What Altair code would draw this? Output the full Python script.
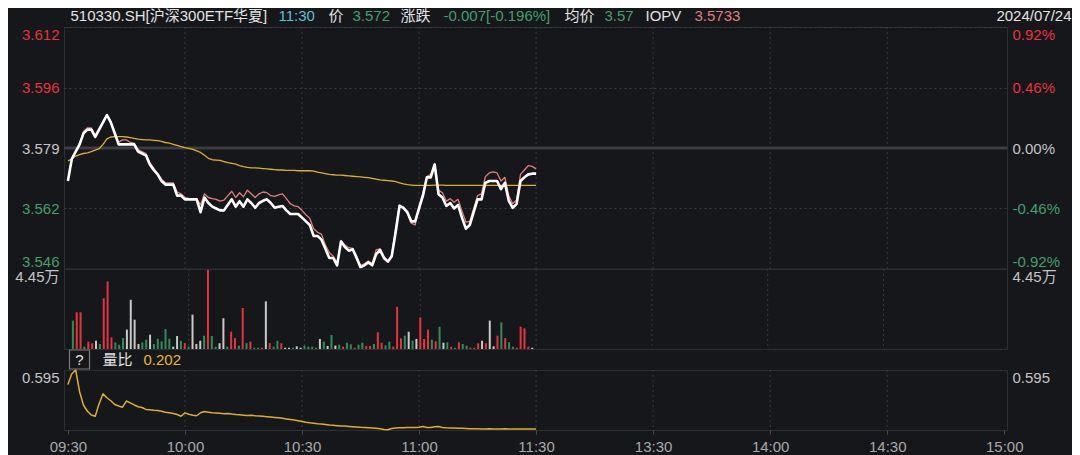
import json
import altair as alt
import pandas as pd

# ---------------- data ----------------
PREV_CLOSE = 3.579

PRICE = [
    3.570, 3.576, 3.578, 3.580, 3.583, 3.584, 3.584, 3.582, 3.584, 3.586,
    3.588, 3.586, 3.583, 3.580, 3.580, 3.580, 3.580, 3.580, 3.578, 3.5775,
    3.577, 3.5745, 3.573, 3.5718, 3.570, 3.569, 3.569, 3.569, 3.566, 3.566,
    3.565, 3.565, 3.565, 3.565, 3.5615, 3.5655, 3.564, 3.563, 3.5625, 3.562,
    3.562, 3.5635, 3.565, 3.563, 3.5645, 3.563, 3.565, 3.564, 3.5627, 3.564,
    3.5646, 3.565, 3.564, 3.5627, 3.563, 3.5632, 3.562, 3.561, 3.561, 3.561,
    3.560, 3.559, 3.558, 3.555, 3.555, 3.554, 3.5515, 3.549, 3.549, 3.547,
    3.5535, 3.552, 3.551, 3.5514, 3.549, 3.5465, 3.547, 3.5478, 3.547, 3.550,
    3.5512, 3.549, 3.548, 3.5495, 3.556, 3.5632, 3.5627, 3.5615, 3.559, 3.559,
    3.5625, 3.566, 3.571, 3.571, 3.5745, 3.5664, 3.5655, 3.5632, 3.564, 3.5625,
    3.5635, 3.560, 3.557, 3.558, 3.5615, 3.565, 3.565, 3.5695, 3.570, 3.570,
    3.570, 3.5678, 3.5695, 3.5646, 3.5627, 3.5637, 3.570, 3.571, 3.5718, 3.572,
    3.572,
]

IOPV = [
    3.5702, 3.5762, 3.5782, 3.5802, 3.5835, 3.5845, 3.5845, 3.5825, 3.5843, 3.5862,
    3.5878, 3.5862, 3.5835, 3.5806, 3.5812, 3.5812, 3.5805, 3.5803, 3.5785, 3.578,
    3.5775, 3.575, 3.5735, 3.572, 3.5705, 3.5695, 3.5695, 3.5695, 3.567, 3.5665,
    3.5655, 3.5652, 3.5652, 3.5652, 3.5635, 3.5665, 3.5655, 3.5652, 3.565, 3.5645,
    3.5648, 3.566, 3.5672, 3.5655, 3.5668, 3.5657, 3.5675, 3.5665, 3.5655, 3.5665,
    3.567, 3.5668, 3.566, 3.5658, 3.5662, 3.5665, 3.5652, 3.5638, 3.5632, 3.563,
    3.562, 3.5608, 3.5598, 3.557, 3.556, 3.5555, 3.5525, 3.5505, 3.5495, 3.5478,
    3.5538, 3.5525, 3.5518, 3.5516, 3.5495, 3.547, 3.5474, 3.5482, 3.5475, 3.5512,
    3.5515, 3.5495, 3.5482, 3.5498, 3.557, 3.5635, 3.5625, 3.5612, 3.5585, 3.558,
    3.5632, 3.5668, 3.5712, 3.5718, 3.5748, 3.5675, 3.5668, 3.5645, 3.5652, 3.5642,
    3.565, 3.5618, 3.5588, 3.559, 3.5625, 3.566, 3.5665, 3.5712, 3.5722, 3.5725,
    3.5722, 3.570, 3.571, 3.566, 3.5638, 3.5648, 3.5718, 3.573, 3.5742, 3.574,
    3.5733,
]

AVG = [
    3.5755, 3.576, 3.5768, 3.5772, 3.5775, 3.5777, 3.578, 3.5784, 3.5788, 3.580,
    3.5815, 3.582, 3.5821, 3.5821, 3.5821, 3.582, 3.5818, 3.5816, 3.5814, 3.5813,
    3.5812, 3.5812, 3.5811, 3.581, 3.5808, 3.5805, 3.5803, 3.580, 3.5797, 3.5794,
    3.5791, 3.5789, 3.5786, 3.5782, 3.5778, 3.577, 3.5762, 3.5758, 3.5757, 3.5756,
    3.5753, 3.575, 3.5748, 3.5746, 3.5742, 3.5739, 3.5737, 3.5736, 3.5736, 3.5735,
    3.5734, 3.5733, 3.5732, 3.5731, 3.573, 3.573, 3.5729, 3.5729, 3.5729, 3.5728,
    3.5728, 3.5728, 3.5728, 3.5727, 3.5724, 3.5722, 3.572, 3.5718, 3.5717, 3.5716,
    3.5716, 3.5715, 3.5714, 3.5713, 3.5712, 3.5711, 3.571, 3.5709, 3.5707, 3.5705,
    3.5703, 3.5702, 3.5701, 3.570, 3.5698, 3.5695, 3.5692, 3.569, 3.5689, 3.5688,
    3.5688, 3.5688, 3.5688, 3.5688, 3.5689, 3.5689, 3.5689, 3.5688, 3.5688, 3.5688,
    3.5688, 3.5688, 3.5688, 3.5688, 3.5688, 3.5688, 3.5688, 3.5688, 3.5688, 3.5688,
    3.5688, 3.5688, 3.5688, 3.5688, 3.5688, 3.5688, 3.5688, 3.5688, 3.5688, 3.5688,
    3.5688,
]

VOLUME = [  # 万
    1.58, 2.04, 2.04, 0.13, 0.41, 0.32, 0.46, 0.28, 2.82, 3.76,
    0.65, 0.37, 0.24, 0.61, 1.08, 2.74, 1.63, 0.28, 0.37, 0.52,
    0.80, 0.28, 0.57, 0.43, 1.11, 0.57, 0.13, 0.72, 0.46, 0.33,
    0.13, 1.91, 0.28, 0.46, 0.74, 4.40, 0.72, 0.13, 0.32, 1.71,
    0.13, 0.96, 0.61, 0.19, 2.28, 0.33, 0.41, 0.07, 0.07, 0.07,
    2.65, 0.33, 0.13, 0.46, 0.32, 0.07, 0.07, 0.07, 0.15, 0.07,
    0.19, 0.13, 0.13, 0.07, 0.56, 0.41, 0.17, 0.78, 0.19, 0.24,
    0.13, 0.35, 0.26, 0.07, 0.24, 0.35, 0.17, 0.17, 0.28, 0.93,
    0.35, 0.20, 0.41, 0.13, 2.35, 0.59, 0.74, 0.96, 0.46, 0.56,
    1.76, 0.56, 1.08, 0.52, 0.43, 1.24, 0.35, 0.37, 0.13, 0.07,
    0.37, 0.28, 0.19, 0.07, 0.07, 0.32, 0.46, 0.32, 1.58, 0.15,
    0.74, 1.48, 0.61, 0.37, 0.13, 0.07, 1.24, 1.15, 0.13, 0.07,
]

VOL_DIR = [  # r = up, g = down, w = flat
    "g", "r", "r", "g", "r", "r", "w", "g", "r", "r",
    "r", "g", "g", "g", "w", "w", "w", "w", "g", "g",
    "w", "g", "g", "g", "g", "g", "w", "w", "g", "r",
    "g", "w", "w", "w", "g", "r", "g", "g", "w", "w",
    "g", "r", "r", "g", "r", "g", "r", "g", "g", "r",
    "w", "r", "g", "g", "r", "w", "w", "g", "w", "w",
    "g", "g", "g", "g", "w", "g", "w", "g", "w", "g",
    "r", "g", "g", "r", "g", "g", "r", "r", "g", "r",
    "r", "g", "g", "r", "r", "r", "g", "w", "g", "w",
    "r", "r", "r", "g", "r", "g", "w", "g", "r", "g",
    "r", "g", "g", "r", "r", "r", "w", "r", "w", "w",
    "r", "g", "r", "g", "g", "r", "r", "r", "r", "w",
]

RATIO = [
    0.499, 0.57, 0.595, 0.45, 0.36, 0.32, 0.295, 0.287, 0.37, 0.436,
    0.41, 0.39, 0.365, 0.355, 0.347, 0.388, 0.376, 0.362, 0.350, 0.345,
    0.332, 0.330, 0.327, 0.325, 0.320, 0.314, 0.310, 0.305, 0.298, 0.287,
    0.309, 0.300, 0.294, 0.290, 0.310, 0.318, 0.314, 0.310, 0.308, 0.306,
    0.304, 0.305, 0.301, 0.298, 0.296, 0.294, 0.292, 0.293, 0.290, 0.288,
    0.286, 0.284, 0.282, 0.279, 0.276, 0.273, 0.269, 0.265, 0.261, 0.257,
    0.252, 0.247, 0.243, 0.240, 0.237, 0.235, 0.232, 0.228, 0.226, 0.224,
    0.222, 0.221, 0.219, 0.217, 0.215, 0.213, 0.212, 0.210, 0.208, 0.206,
    0.203, 0.199, 0.197, 0.205, 0.209, 0.210, 0.210, 0.211, 0.211, 0.212,
    0.213, 0.218, 0.212, 0.211, 0.216, 0.218, 0.212, 0.210, 0.209, 0.208,
    0.207, 0.206, 0.205, 0.204, 0.203, 0.203, 0.202, 0.202, 0.203, 0.202,
    0.202, 0.202, 0.203, 0.202, 0.202, 0.202, 0.202, 0.202, 0.202, 0.202,
    0.202,
]

TIME_TICKS = [0, 30, 60, 90, 120, 150, 180, 210, 240]
TIME_LABELS = ["09:30", "10:00", "10:30", "11:00", "11:30", "13:30", "14:00", "14:30", "15:00"]
GRID_TIMES = [30, 60, 90, 120, 150, 180, 210]

PRICE_TICKS = [3.546, 3.5625, 3.579, 3.5955, 3.612]
PRICE_LABELS = ["3.546", "3.562", "3.579", "3.596", "3.612"]
PCT_LABELS = ["-0.92%", "-0.46%", "0.00%", "0.46%", "0.92%"]
VOL_MAX = 4.45
VOL_LABEL = "4.45万"
RATIO_MAX = 0.595
RATIO_MIN = 0.195

HEADER = [
    ("510330.SH[沪深300ETF华夏]", "text"),
    ("11:30", "time"),
    ("价", "text"),
    ("3.572", "green"),
    ("涨跌", "text"),
    ("-0.007[-0.196%]", "green"),
    ("均价", "text"),
    ("3.57", "green"),
    ("IOPV", "text"),
    ("3.5733", "iopv"),
]
DATE_TEXT = "2024/07/24"
LEGEND_NAME = "量比"
LEGEND_VALUE = "0.202"

# ---------------- layout / style ----------------
PLOT_LEFT = 63.5
HEADER_X = [70, 278, 328, 352, 400, 443, 564, 604, 645, 694]
DATE_RIGHT = 1071
W = 943
H_PRICE, H_VOL, H_GAP, H_RATIO = 242, 80, 21, 60

FONT = "'Liberation Sans', 'Noto Sans CJK SC', sans-serif"
BG = "#16171b"
BORDER = "#2e2f33"
GRID = "#3a3b40"
ZERO = "#3c3d41"
TXT = "#e2e2e2"
AXT = "#c4c4c4"
TIMEC = "#a9a9a9"
RED = "#e5343d"
GREEN = "#3fa06c"
CYAN = "#58c3d2"
SALMON = "#df7f7c"
YELLOW = "#e0ad2c"
HCOL = {"text": TXT, "time": CYAN, "green": GREEN, "iopv": SALMON}

xs = alt.Scale(domain=[-1, 240.7], nice=False, zero=False)
ys = alt.Scale(domain=[PRICE_TICKS[0], PRICE_TICKS[-1]], nice=False, zero=False)
vs = alt.Scale(domain=[0, VOL_MAX], nice=False, zero=True)
rs = alt.Scale(domain=[RATIO_MIN, RATIO_MAX], nice=False, zero=False)

color_expr = (f"datum.value > {PREV_CLOSE} + 0.0001 ? '{RED}' : "
              f"datum.value < {PREV_CLOSE} - 0.0001 ? '{GREEN}' : '{AXT}'")


def pick(labels, ticks):
    return f"{json.dumps(labels, ensure_ascii=False)}[indexof({json.dumps(ticks)}, datum.value)]"


price_left = alt.Axis(values=PRICE_TICKS, orient="left", title=None, ticks=False, domain=False,
                      labelExpr=pick(PRICE_LABELS, PRICE_TICKS), labelColor={"expr": color_expr},
                      labelFlush=True, labelPadding=5, labelFontSize=15,
                      grid=True, gridColor=GRID, gridDash=[2, 3])
price_right = alt.Axis(values=PRICE_TICKS, orient="right", title=None, ticks=False, domain=False,
                       labelExpr=pick(PCT_LABELS, PRICE_TICKS), labelColor={"expr": color_expr},
                       labelFlush=True, labelPadding=5, labelFontSize=15, grid=False)


def side_axis(orient, values, label_expr):
    return alt.Axis(values=values, orient=orient, title=None, ticks=False, domain=False,
                    labelExpr=label_expr, labelColor=AXT, labelFlush=True,
                    labelPadding=5, labelFontSize=15, grid=False)


grid_df = pd.DataFrame({"t": GRID_TIMES})


def vgrid():
    return alt.Chart(grid_df).mark_rule(color=GRID, strokeDash=[2, 3], strokeWidth=1).encode(
        x=alt.X("t:Q", scale=xs, axis=None))


# ---------------- price panel ----------------
price_df = pd.DataFrame({"m": list(range(len(PRICE))), "price": PRICE, "iopv": IOPV, "avg": AVG})
pbase = alt.Chart(price_df)

zero_rule = alt.Chart(pd.DataFrame({"p": [PREV_CLOSE]})).mark_rule(color=ZERO, strokeWidth=3).encode(
    y=alt.Y("p:Q", scale=ys, axis=price_left))
avg_line = pbase.mark_line(color=YELLOW, strokeWidth=1.3, strokeJoin="round").encode(
    x=alt.X("m:Q", scale=xs, axis=None), y=alt.Y("avg:Q", scale=ys, axis=None))
iopv_line = pbase.mark_line(color=SALMON, strokeWidth=1.3, strokeJoin="round").encode(
    x=alt.X("m:Q", scale=xs, axis=None), y=alt.Y("iopv:Q", scale=ys, axis=None))
price_line = pbase.mark_line(color="#ffffff", strokeWidth=2.6, strokeJoin="round").encode(
    x=alt.X("m:Q", scale=xs, axis=None), y=alt.Y("price:Q", scale=ys, axis=price_right))

header_layers = []
for (txt, ck), hx in zip(HEADER, HEADER_X):
    header_layers.append(
        alt.Chart(pd.DataFrame({"t": [txt]})).mark_text(
            align="left", baseline="middle", fontSize=15, color=HCOL[ck]).encode(
            x=alt.value(hx - PLOT_LEFT), y=alt.value(-11), text="t:N"))
header_layers.append(
    alt.Chart(pd.DataFrame({"t": [DATE_TEXT]})).mark_text(
        align="right", baseline="middle", fontSize=15, color=TXT).encode(
        x=alt.value(DATE_RIGHT - PLOT_LEFT), y=alt.value(-11), text="t:N"))

price_chart = alt.layer(vgrid(), zero_rule, avg_line, iopv_line, price_line, *header_layers).resolve_axis(
    y="independent", x="independent").properties(width=W, height=H_PRICE)

# ---------------- volume panel ----------------
vol_df = pd.DataFrame({"m": list(range(len(VOLUME))), "v": VOLUME, "d": VOL_DIR})
bars = alt.Chart(vol_df).mark_bar(size=2).encode(
    x=alt.X("m:Q", scale=xs, axis=None),
    y=alt.Y("v:Q", scale=vs, axis=side_axis("left", [VOL_MAX], f"'{VOL_LABEL}'")),
    color=alt.Color("d:N", scale=alt.Scale(domain=["r", "g", "w"], range=[RED, "#2f8d5a", "#c9c9c9"]),
                    legend=None))
vol_top = alt.Chart(pd.DataFrame({"v": [VOL_MAX]})).mark_rule(color=BORDER, strokeWidth=1).encode(
    y=alt.Y("v:Q", scale=vs, axis=side_axis("right", [VOL_MAX], f"'{VOL_LABEL}'")))
vol_chart = alt.layer(vgrid(), bars, vol_top).resolve_axis(y="independent").properties(
    width=W, height=H_VOL)

# ---------------- ratio legend strip ----------------
one = pd.DataFrame({"t": ["?"]})
q_box = alt.Chart(one).mark_rect(fill=BG, stroke="#7a7a7a", strokeWidth=1.2).encode(
    x=alt.value(69 - PLOT_LEFT), x2=alt.value(89 - PLOT_LEFT), y=alt.value(1), y2=alt.value(20))
q_text = alt.Chart(one).mark_text(align="center", baseline="middle", fontSize=15, color=TXT).encode(
    x=alt.value(79 - PLOT_LEFT), y=alt.value(11), text="t:N")
leg_name = alt.Chart(pd.DataFrame({"t": [LEGEND_NAME]})).mark_text(
    align="left", baseline="middle", fontSize=15, color=TXT).encode(
    x=alt.value(102 - PLOT_LEFT), y=alt.value(11), text="t:N")
leg_val = alt.Chart(pd.DataFrame({"t": [LEGEND_VALUE]})).mark_text(
    align="left", baseline="middle", fontSize=15, color="#e8b630").encode(
    x=alt.value(143 - PLOT_LEFT), y=alt.value(11), text="t:N")
legend_strip = alt.layer(q_box, q_text, leg_name, leg_val).properties(
    width=W, height=H_GAP, view=alt.ViewBackground(stroke="transparent"))

# ---------------- ratio panel ----------------
ratio_df = pd.DataFrame({"m": list(range(len(RATIO))), "r": RATIO})
time_axis = alt.Axis(values=TIME_TICKS, labelExpr=pick(TIME_LABELS, TIME_TICKS), title=None,
                     grid=False, domain=False, ticks=True, tickSize=4, tickColor="#4a4b50",
                     labelColor=TIMEC, labelFontSize=15, labelPadding=5, labelFlush=False,
                     labelOverlap=False)
ratio_line = alt.Chart(ratio_df).mark_line(color=YELLOW, strokeWidth=1.5, strokeJoin="round").encode(
    x=alt.X("m:Q", scale=xs, axis=time_axis),
    y=alt.Y("r:Q", scale=rs, axis=side_axis("left", [RATIO_MAX], "format(datum.value, '.3f')")))
ratio_right = alt.Chart(pd.DataFrame({"r": [RATIO_MAX]})).mark_rule(strokeOpacity=0).encode(
    y=alt.Y("r:Q", scale=rs, axis=side_axis("right", [RATIO_MAX], "format(datum.value, '.3f')")))

ratio_chart = alt.layer(vgrid(), ratio_line, ratio_right).resolve_axis(
    y="independent", x="independent").properties(width=W, height=H_RATIO)

chart = alt.vconcat(price_chart, vol_chart, legend_strip, ratio_chart, spacing=0, bounds="flush").properties(
    padding={"left": 6, "top": 0, "right": 0, "bottom": 0},
    background=BG,
).configure_view(
    stroke=BORDER, strokeWidth=1
).configure_axis(
    labelFont=FONT, titleFont=FONT
).configure_text(
    font=FONT
)

chart.save("out.html", embed_options={"renderer": "svg", "actions": False})
